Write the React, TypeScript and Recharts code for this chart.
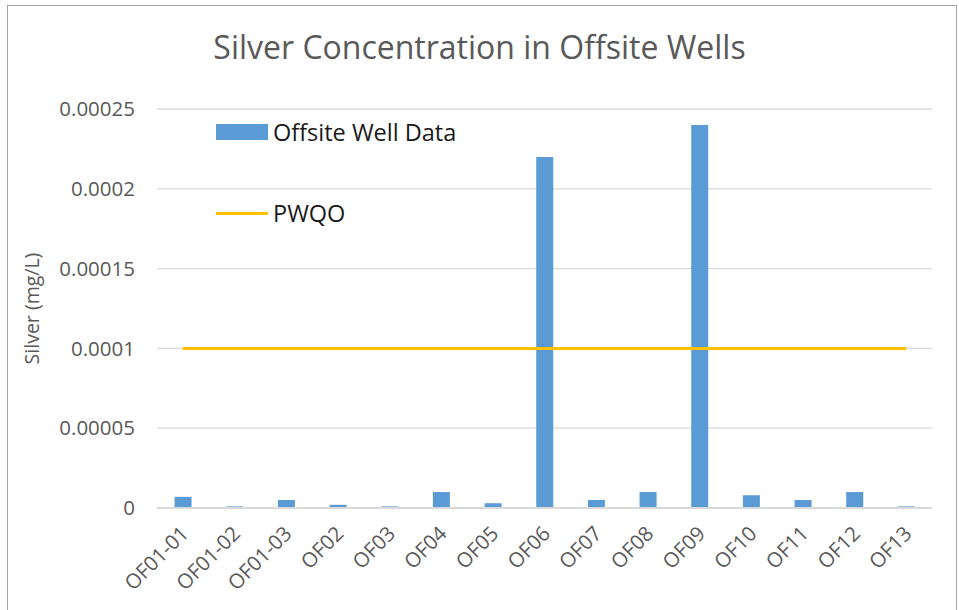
import { ComposedChart, Bar, Line, XAxis, YAxis, CartesianGrid } from "recharts";

const pozos = ["OF01-01", "OF01-02", "OF01-03", "OF02", "OF03", "OF04", "OF05", "OF06", "OF07", "OF08", "OF09", "OF10", "OF11", "OF12", "OF13"];
const plata = [0.000007, 0.000001, 0.000005, 0.000002, 0.000001, 0.00001, 0.000003, 0.00022, 0.000005, 0.00001, 0.00024, 0.000008, 0.000005, 0.00001, 0.000001];
const pwqo = [0.0001, 0.0001, 0.0001, 0.0001, 0.0001, 0.0001, 0.0001, 0.0001, 0.0001, 0.0001, 0.0001, 0.0001, 0.0001, 0.0001, 0.0001];
const marcasY = [0, 0.00005, 0.0001, 0.00015, 0.0002, 0.00025];

const datos = pozos.map((p, i) => ({ pozo: p, plata: plata[i], pwqo: pwqo[i] }));

const fuente = "Open Sans, sans-serif";
const gris = "#595959";

const numero = (v: number) => (v === 0 ? "0" : String(parseFloat(v.toFixed(6))));

function TickX({ x, y, payload }: any) {
  return (
    <text x={x + 7} y={y + 19} transform={`rotate(-45, ${x + 7}, ${y + 19})`} textAnchor="end" fill={gris} fontSize={20.5} fontFamily={fuente}>
      {payload.value}
    </text>
  );
}

export default function App() {
  return (
    <div style={{ position: "absolute", left: 0, top: 0, width: 959, height: 610, background: "#fff", overflow: "hidden" }}>
      <div style={{ position: "absolute", left: 7, top: 5, width: 948, height: 640, border: "1.5px solid #a6a6a6" }} />
      <div style={{ position: "absolute", left: 0, top: 25, width: 959, textAlign: "center", fontFamily: fuente, fontSize: 32, color: gris }}>
        Silver Concentration in Offsite Wells
      </div>
      <div style={{ position: "absolute", left: 0, top: 0 }}>
        <ComposedChart width={959} height={610} data={datos} margin={{ top: 109, right: 27, left: 0, bottom: 0 }} barCategoryGap="34%">
          <CartesianGrid stroke="#d9d9d9" strokeWidth={1.3} vertical={false} />
          <XAxis dataKey="pozo" height={102} tick={<TickX />} tickLine={false} axisLine={{ stroke: "#d9d9d9", strokeWidth: 2 }} interval={0} />
          <YAxis
            width={157}
            domain={[0, 0.00025]}
            ticks={marcasY}
            tickFormatter={numero}
            tickLine={false}
            axisLine={false}
            tickSize={0}
            tickMargin={22}
            tick={{ fill: gris, fontSize: 20.5, fontFamily: fuente }}
            label={{ value: "Silver (mg/L)", angle: -90, position: "insideLeft", offset: 32, style: { fill: gris, fontSize: 19.5, fontFamily: fuente, textAnchor: "middle" } }}
          />
          <Bar dataKey="plata" fill="#5B9BD5" isAnimationActive={false} />
          <Line dataKey="pwqo" stroke="#FFC000" strokeWidth={3} dot={false} isAnimationActive={false} />
        </ComposedChart>
      </div>
      <div style={{ position: "absolute", left: 216, top: 118, fontFamily: fuente, fontSize: 23.5, color: "#1a1a1a" }}>
        <div style={{ display: "flex", alignItems: "center", height: 28 }}>
          <span style={{ width: 52, height: 16, background: "#5B9BD5", marginRight: 5 }} />
          <span>Offsite Well Data</span>
        </div>
        <div style={{ display: "flex", alignItems: "center", height: 28, marginTop: 53 }}>
          <span style={{ width: 52, height: 3, background: "#FFC000", marginRight: 5 }} />
          <span>PWQO</span>
        </div>
      </div>
    </div>
  );
}
